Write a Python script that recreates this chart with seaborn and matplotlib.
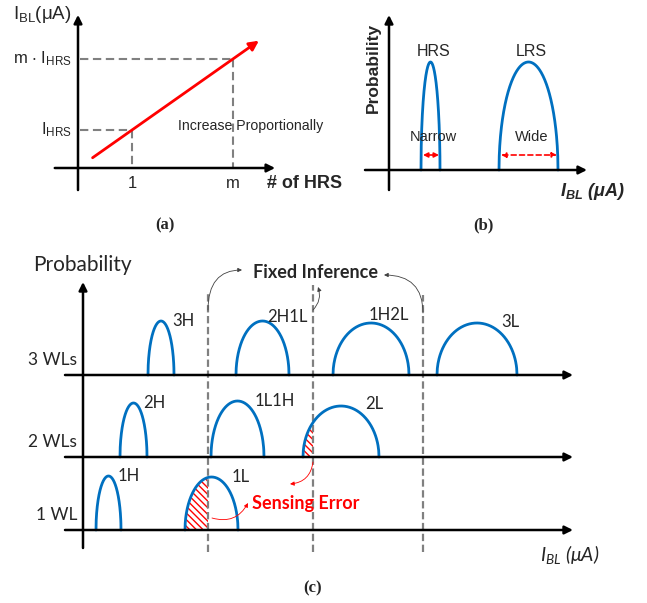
import numpy as np
import pandas as pd
import matplotlib
matplotlib.use("Agg")
import matplotlib.pyplot as plt
import seaborn as sns

sns.set_theme(style="white")
plt.rcParams["mathtext.default"] = "regular"
plt.rcParams["hatch.linewidth"] = 1.0

W, H = 647, 603
BLUE = "#0070C0"
RED = "#FF0000"
GREY = "#808080"
ARIAL = ["Liberation Sans", "DejaVu Sans"]
CALIBRI = ["Lato", "DejaVu Sans"]
TIMES = ["Liberation Serif", "DejaVu Serif"]

# ---------------- data ----------------
# (a) BL current grows proportionally with the number of HRS cells
a_hrs_vals = [1.0, 2.87]
a_hrs_labels = ["1", "m"]
a_current_vals = [1.0, 2.87]
a_current_labels = ["I$_{HRS}$", "m $\\cdot$ I$_{HRS}$"]
a_line_x = [0.27, 3.35]

# (b) single-cell distributions
b_states = ["HRS", "LRS"]
b_center = [4.15, 13.95]
b_halfwidth = [0.95, 2.95]
b_peak = [10.8, 10.8]
b_spread = ["Narrow", "Wide"]

# (c) multi-WL distributions
row_labels = ["3 WLs", "2 WLs", "1 WL"]
row_base = [15.5, 7.3, 0.0]
c_states = ["3H", "2H1L", "1H2L", "3L", "2H", "1L1H", "2L", "1H", "1L"]
c_row = [0, 0, 0, 0, 1, 1, 1, 2, 2]
c_center = [7.8, 17.95, 28.8, 39.4, 5.05, 15.45, 25.8, 2.55, 12.85]
c_halfwidth = [1.3, 2.65, 3.8, 4.0, 1.35, 2.65, 3.8, 1.25, 2.65]
c_peak = [5.4, 5.4, 5.2, 5.2, 5.4, 5.6, 5.1, 5.4, 5.3]
c_hatched = ["1L", "2L"]
thresholds = [12.5, 23.0, 34.0]

# label placement (layout only)
c_label_dx = [1.1, 0.45, -0.2, 2.4, 0.95, 1.75, 2.4, 0.95, 2.05]
c_label_dy = [0.0, 0.4, 0.8, 0.1, 0.0, 0.0, 0.2, 0.0, 0.0]

fig = plt.figure(figsize=(W / 100, H / 100), dpi=100)


def panel_axes(box, origin, scale):
    x0, y0, x1, y1 = box
    ox, oy = origin
    sx, sy = scale
    ax = fig.add_axes([x0 / W, 1 - y1 / H, (x1 - x0) / W, (y1 - y0) / H])
    ax.set_xlim((x0 - ox) / sx, (x1 - ox) / sx)
    ax.set_ylim((oy - y1) / sy, (oy - y0) / sy)
    ax.axis("off")
    return ax


def arrow_line(ax, start, end, lw=1.8, color="black", ms=14, style="-|>", ls="-"):
    ax.annotate("", xy=end, xytext=start,
                arrowprops=dict(arrowstyle=style, lw=lw, color=color, linestyle=ls,
                                mutation_scale=ms, shrinkA=0, shrinkB=0))


def dome(center, halfwidth, peak, base, n=241):
    u = np.linspace(-1, 1, n)
    return center + halfwidth * u, base + peak * np.sqrt(np.clip(1 - u ** 2, 0, 1))


# ---------------- panel (a) ----------------
axa = panel_axes((0, 0, 330, 240), (78, 168), (54, 38))
arrow_line(axa, (0, -0.58), (0, 4.03), ms=12)
arrow_line(axa, (-0.43, 0), (3.65, 0), ms=12)
for xv, yv in zip(a_hrs_vals, a_current_vals):
    axa.plot([0.04, xv], [yv, yv], color=GREY, lw=1.5, ls=(0, (4, 2.2)))
    axa.plot([xv, xv], [yv, 0], color=GREY, lw=1.5, ls=(0, (4, 2.2)))
for xv, lab in zip(a_hrs_vals, a_hrs_labels):
    axa.text(xv, -0.42, lab, ha="center", va="center", fontsize=12, family=ARIAL)
for yv, lab in zip(a_current_vals, a_current_labels):
    axa.text(-0.11, yv, lab, ha="right", va="center", fontsize=12, family=ARIAL)
arrow_line(axa, (a_line_x[0], a_line_x[0]), (a_line_x[1], a_line_x[1]),
           lw=2.0, color=RED, ms=14)
axa.text(-0.11, 4.03, "I$_{BL}$(μA)", ha="right", va="center", fontsize=13.5, family=ARIAL)
axa.text(3.5, -0.42, "# of HRS", ha="left", va="center", fontsize=13, family=ARIAL,
         fontweight="bold")
axa.text(1.85, 1.1, "Increase Proportionally", ha="left", va="center", fontsize=10.2,
         family=ARIAL)
axa.text(1.61, -1.5, "(a)", ha="center", va="center", fontsize=12, family=TIMES,
         fontweight="bold")

# ---------------- panel (b) ----------------
axb = panel_axes((330, 0, 647, 240), (389, 170), (10, 10))
arrow_line(axb, (0, -2.0), (0, 15.5), ms=12)
arrow_line(axb, (-2.4, 0), (19.8, 0), ms=12)
rows = []
for s, c, hw, h in zip(b_states, b_center, b_halfwidth, b_peak):
    xs, ys = dome(c, hw, h, 0.0)
    rows += [(s, xi, yi) for xi, yi in zip(xs, ys)]
dfb = pd.DataFrame(rows, columns=["state", "x", "y"])
sns.lineplot(data=dfb, x="x", y="y", units="state", estimator=None, sort=False,
             color=BLUE, lw=2.0, ax=axb, legend=False)
for s, c, hw, h, sp in zip(b_states, b_center, b_halfwidth, b_peak, b_spread):
    axb.text(c + 0.3, h + 1.0, s, ha="center", va="center", fontsize=11.5, family=ARIAL)
    axb.text(c + 0.3, 3.3, sp, ha="center", va="center", fontsize=10.5, family=ARIAL)
    axb.annotate("", xy=(c + hw - 0.1, 1.5), xytext=(c - hw + 0.2, 1.5),
                 arrowprops=dict(arrowstyle="<|-|>", lw=1.2, color=RED,
                                 linestyle="-" if sp == "Narrow" else (0, (3, 2)),
                                 mutation_scale=7, shrinkA=0, shrinkB=0))
axb.set_xlabel("")
axb.set_ylabel("")
axb.text(-1.6, 10.2, "Probability", rotation=90, ha="center", va="center", fontsize=12.5,
         family=ARIAL, fontweight="bold")
axb.text(17.1, -2.2, "I$_{BL}$ (μA)", ha="left", va="center", fontsize=13, family=ARIAL,
         fontstyle="italic", fontweight="bold")
axb.text(9.4, -5.5, "(b)", ha="center", va="center", fontsize=12, family=TIMES,
         fontweight="bold")

# ---------------- panel (c) ----------------
axc = panel_axes((0, 240, 647, 603), (83, 530), (10, 10))
arrow_line(axc, (0, -1.8), (0, 24.8), ms=12)
for lab, base in zip(row_labels, row_base):
    arrow_line(axc, (-1.8, base), (49.0, base), ms=12)
    axc.text(-0.6, base + 1.5, lab, ha="right", va="center", fontsize=12.5, family=CALIBRI)

tops = [23.7, 24.5, 23.5]
for t, top in zip(thresholds, tops):
    axc.plot([t, t], [-2.2, top], color=GREY, lw=1.6, ls=(0, (3.3, 1.6)))

rows = []
for s, r, c, hw, h, dx, dy in zip(c_states, c_row, c_center, c_halfwidth, c_peak,
                                  c_label_dx, c_label_dy):
    xs, ys = dome(c, hw, h, row_base[r])
    rows += [(s, xi, yi) for xi, yi in zip(xs, ys)]
    if s in c_hatched:
        t = [th for th in thresholds if c - hw < th < c + hw][0]
        xm = np.append(xs[xs < t], t)
        ym = np.append(ys[xs < t], np.interp(t, xs, ys))
        axc.fill_between(xm, row_base[r], ym, facecolor="none", edgecolor=RED,
                         hatch="\\" * 5, linewidth=0)
    axc.text(c + dx, row_base[r] + h + dy, s, ha="left", va="center",
             fontsize=12, family=CALIBRI)
dfc = pd.DataFrame(rows, columns=["state", "x", "y"])
sns.lineplot(data=dfc, x="x", y="y", units="state", estimator=None, sort=False,
             color=BLUE, lw=2.0, ax=axc, legend=False)
axc.set_xlabel("")
axc.set_ylabel("")

axc.text(-5.0, 26.5, "Probability", ha="left", va="center", fontsize=15, family=CALIBRI)
axc.text(17.0, 25.7, "Fixed Inference", ha="left", va="center", fontsize=13,
         family=CALIBRI, fontweight="bold")
axc.text(16.9, 2.6, "Sensing Error", ha="left", va="center", fontsize=13,
         family=CALIBRI, fontweight="bold", color=RED)
axc.text(45.7, -2.5, "I$_{BL}$ (μA)", ha="left", va="center", fontsize=14,
         family=CALIBRI, fontstyle="italic")
axc.text(23.0, -5.8, "(c)", ha="center", va="center", fontsize=12, family=TIMES,
         fontweight="bold")

thin = dict(arrowstyle="-|>", lw=0.6, color="#404040", mutation_scale=6,
            shrinkA=0, shrinkB=0)
axc.annotate("", xy=(15.9, 26.0), xytext=(12.5, 22.0),
             arrowprops=dict(thin, connectionstyle="angle3,angleA=90,angleB=0"))
axc.annotate("", xy=(23.5, 24.3), xytext=(23.0, 22.0),
             arrowprops=dict(thin, connectionstyle="arc3,rad=0.3"))
axc.annotate("", xy=(30.1, 25.5), xytext=(34.0, 21.7),
             arrowprops=dict(thin, connectionstyle="angle3,angleA=90,angleB=0"))
red_thin = dict(arrowstyle="-|>", lw=0.6, color=RED, mutation_scale=6,
                shrinkA=0, shrinkB=0)
axc.annotate("", xy=(16.5, 2.7), xytext=(12.9, 1.2),
             arrowprops=dict(red_thin, connectionstyle="arc3,rad=0.4"))
axc.annotate("", xy=(20.7, 4.6), xytext=(23.0, 6.8),
             arrowprops=dict(red_thin, connectionstyle="arc3,rad=-0.4"))

fig.savefig("out.png", dpi=100)
